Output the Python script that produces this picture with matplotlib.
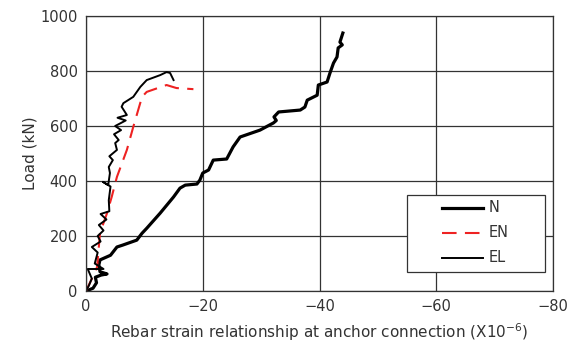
import matplotlib
matplotlib.use("Agg")
import matplotlib.pyplot as plt
from matplotlib.patches import Rectangle

# Load vs. rebar strain at the anchor connection for three specimens
n_strain = [0, -1.2, -1.8, -1.6, -2.6, -3.6, -2.4, -2.2, -2.4, -4.2, -5.3, -6.3, -8.7, -9.6,
            -10.4, -12.7, -15.0, -16.1, -17.0, -19.0, -19.5, -20.0, -21.0, -21.8, -24.1,
            -25.2, -26.4, -29.8, -32.1, -32.6, -32.2, -33.0, -36.7, -37.5, -37.9, -39.6,
            -39.8, -41.3, -41.8, -42.4, -43.0, -43.2, -43.9, -43.5, -44.0]
n_load = [0, 10, 30, 50, 58, 62, 70, 95, 113, 130, 160, 167, 185, 210,
          228, 283, 342, 374, 385, 389, 403, 429, 440, 476, 480,
          524, 560, 585, 611, 620, 633, 651, 658, 669, 694, 712,
          749, 760, 793, 829, 851, 884, 895, 905, 938]

en_strain = [0, -1.0, -1.9, -2.4, -3.6, -4.4, -5.3, -7.0, -8.1, -9.6, -10.4, -13.8, -15.5, -18.4]
en_load = [0, 45, 87, 211, 283, 342, 415, 513, 597, 706, 724, 749, 738, 734]

el_strain = [0, -0.5, -1.0, -0.3, -3.0, -1.5, -2.0, -1.0, -2.5, -2.0, -3.0, -2.2, -3.5,
             -2.5, -4.0, -3.9, -4.2, -2.9, -3.8, -4.1, -3.9, -4.6, -4.0, -5.3, -5.0,
             -5.6, -4.8, -6.0, -5.0, -6.8, -5.4, -7.0, -6.1, -6.4, -8.1, -9.3, -10.4,
             -12.7, -13.8, -14.4, -15.0]
el_load = [0, 20, 45, 80, 80, 100, 140, 160, 180, 200, 220, 240, 260,
           280, 290, 330, 380, 397, 385, 429, 451, 476, 490, 513, 538,
           549, 570, 585, 600, 620, 630, 640, 670, 683, 706, 742, 767,
           785, 796, 793, 767]

x_ticks = [0, -20, -40, -60, -80]
y_ticks = [0, 200, 400, 600, 800, 1000]

plt.rcParams['font.family'] = ['DejaVu Sans']
fig = plt.figure(figsize=(5.86, 3.43), dpi=100)
ax = fig.add_axes([86 / 586, 52 / 343, 467 / 586, 275 / 343])

series = [
    (n_strain, n_load, dict(color='black', lw=2.3, solid_joinstyle='round'), 'N'),
    (en_strain, en_load, dict(color='#ee2222', lw=1.5, ls=(0, (7, 4))), 'EN'),
    (el_strain, el_load, dict(color='black', lw=1.4), 'EL'),
]
for xs, ys, style, name in series:
    ax.plot(xs, ys, label=name, **style)

ax.set_xlim(0, -80)
ax.set_ylim(0, 1000)
ax.set_xticks(x_ticks)
ax.set_yticks(y_ticks)
ax.grid(True, color='#333333', lw=0.9)
ax.set_axisbelow(True)
ax.tick_params(length=0, labelsize=10.5, colors='#333333', pad=6)
for s in ax.spines.values():
    s.set_color('#333333')
    s.set_linewidth(0.9)

ax.set_xlabel('Rebar strain relationship at anchor connection (X10$^{-6}$)',
              fontsize=11, color='#333333', labelpad=5)
ax.set_ylabel('Load (kN)', fontsize=11, color='#333333', labelpad=2)

# Key box with wide left margin
tr = ax.transAxes
ax.add_patch(Rectangle((0.687, 0.069), 0.296, 0.280, transform=tr, facecolor='white',
                       edgecolor='#333333', lw=0.9, zorder=5))
rows_y = [0.302, 0.211, 0.120]
for (xs, ys, style, name), yy in zip(series, rows_y):
    ax.plot([0.762, 0.850], [yy, yy], transform=tr, zorder=6, clip_on=False, **style)
    ax.text(0.862, yy, name, transform=tr, fontsize=10.5, color='#333333',
            va='center', ha='left', zorder=6)

fig.savefig('out.png', dpi=100)
